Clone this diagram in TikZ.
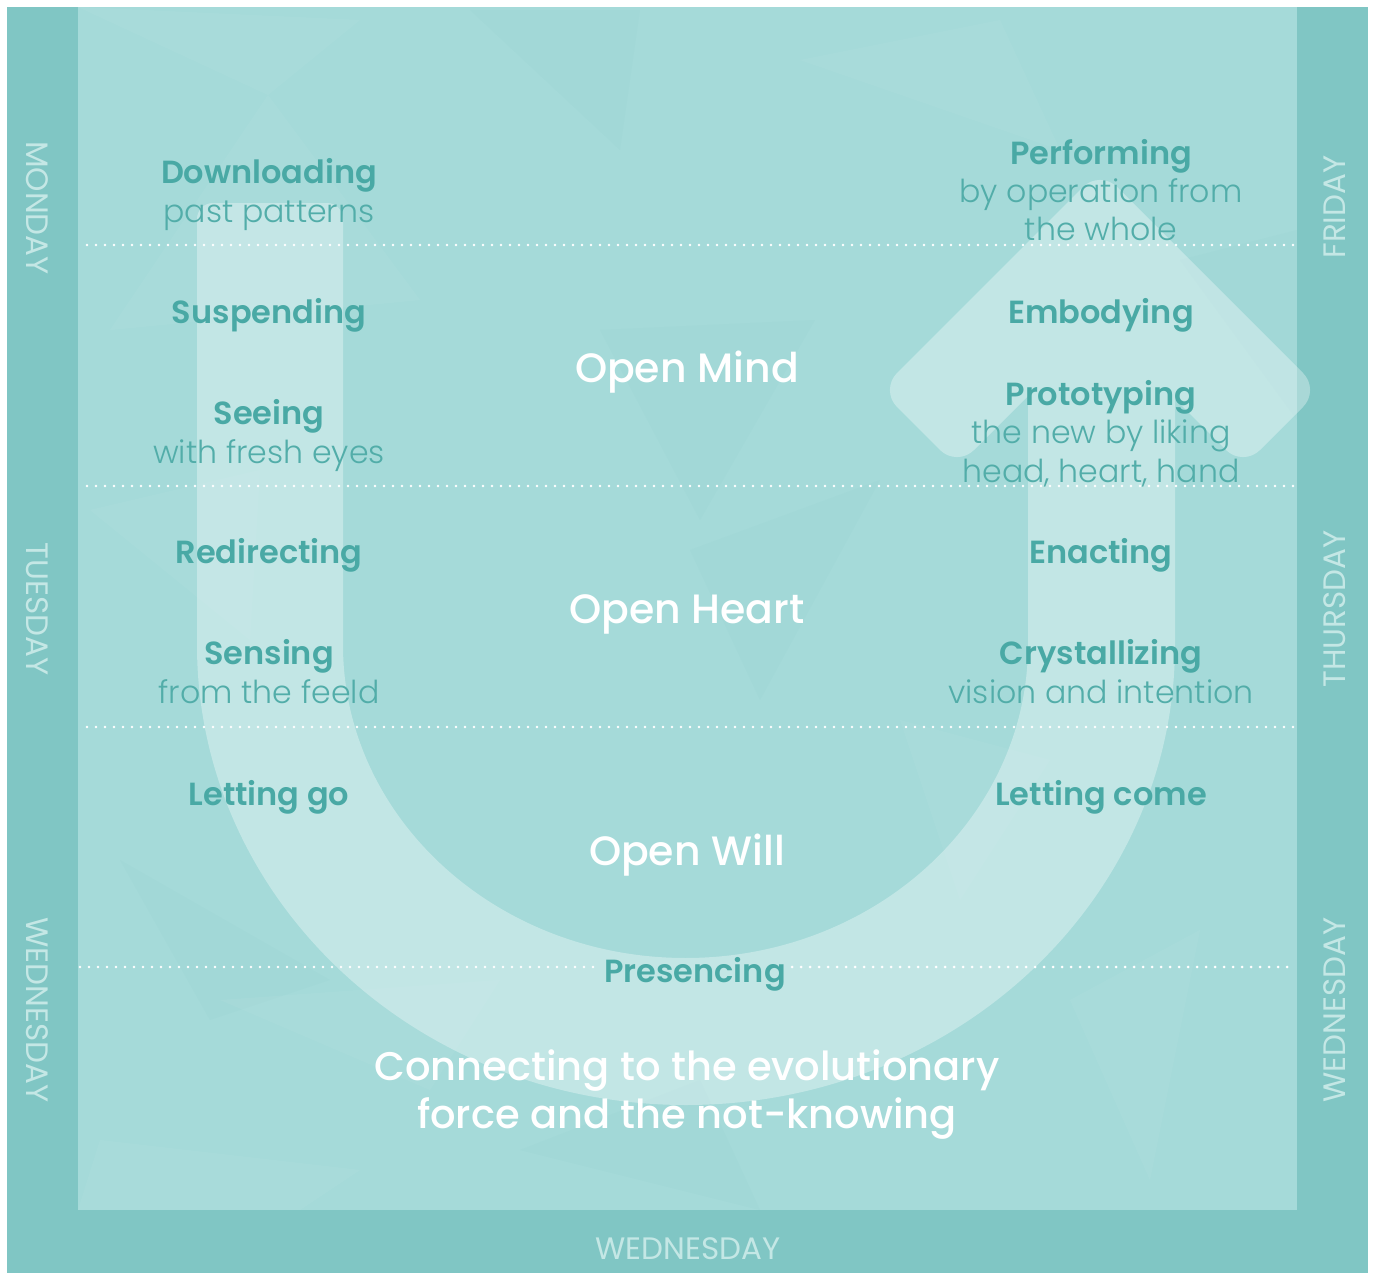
\documentclass[tikz,border=0pt]{standalone}
\usepackage{fontspec}
\setmainfont{Poppins}
\newfontfamily\semib{Poppins SemiBold}
\newfontfamily\lightf{Poppins Light}
\newfontfamily\medf{Poppins Medium}
\definecolor{band}{HTML}{80C6C4}
\definecolor{panel}{HTML}{A5DAD9}
\definecolor{ink}{HTML}{49A9A5}
\definecolor{inksub}{HTML}{52ADA9}
\definecolor{dayc}{HTML}{C4E7E5}
\tikzset{
  headtxt/.style={text=ink, anchor=base, inner sep=0pt, font=\semib\fontsize{16}{19}\selectfont},
  subtxt/.style={text=inksub, anchor=base, inner sep=0pt, font=\lightf\fontsize{15.8}{19}\selectfont},
  opentxt/.style={text=white, anchor=base, inner sep=0pt, font=\medf\fontsize{20.5}{24}\selectfont},
  conntxt/.style={text=white, anchor=base, inner sep=0pt, font=\medf\fontsize{20}{24}\selectfont},
  daytxt/.style={text=dayc, inner sep=0pt, font=\fontsize{15.5}{17}\selectfont},
  dots/.style={white, line width=1.4pt, line cap=round, dash pattern=on 0pt off 4.5pt},
  facet/.style={fill=white, fill opacity=0.045},
  facetd/.style={fill=band, fill opacity=0.08}
}
\begin{document}
\begin{tikzpicture}[x=0.5pt,y=-0.5pt]
\useasboundingbox (0,0) rectangle (1373,1274);
\fill[white] (0,0) rectangle (1373,1274);
% outer band and inner panel
\fill[band] (7,7) rectangle (1368,1273);
\fill[panel] (78,7) rectangle (1297,1210);
% faint facets
\begin{scope}
\clip (78,7) rectangle (1297,1210);
\fill[facet] (78,7) -- (268,95) -- (360,20) -- cycle;
\fill[facet] (268,95) -- (420,300) -- (110,330) -- cycle;
\fill[facetd] (470,10) -- (620,150) -- (640,10) -- cycle;
\fill[facet] (800,60) -- (1000,20) -- (1060,150) -- cycle;
\fill[facetd] (600,330) -- (815,320) -- (700,520) -- cycle;
\fill[facet] (90,510) -- (260,470) -- (250,640) -- cycle;
\fill[facetd] (690,550) -- (880,480) -- (760,700) -- cycle;
\fill[facet] (100,1140) -- (360,1170) -- (300,1210) -- (78,1210) -- cycle;
\fill[facetd] (520,1150) -- (700,1080) -- (760,1210) -- cycle;
\fill[facet] (1070,1000) -- (1200,930) -- (1150,1180) -- cycle;
\fill[facetd] (120,860) -- (330,980) -- (210,1020) -- cycle;
\fill[facet] (900,720) -- (1050,760) -- (960,900) -- cycle;
\fill[facetd] (1180,260) -- (1297,230) -- (1297,420) -- cycle;
\fill[facet] (220,1000) -- (500,980) -- (430,1090) -- cycle;
\end{scope}
% U with arrow
\fill[white, fill opacity=0.33]
  (197,645) [rounded corners=8pt] -- (197,203) -- (343,203) [sharp corners] -- (343,645)
  arc[start angle=180, end angle=0, x radius=342.5, y radius=313]
  -- (1028,396) [rounded corners=12pt] -- (957,467) -- (880,390) -- (1100,170) -- (1320,390) -- (1243,467) [sharp corners] -- (1175,399)
  -- (1175,645)
  arc[start angle=0, end angle=180, x radius=489, y radius=460] -- cycle;
% dotted level lines
\draw[dots] (87,245) -- (1295,245);
\draw[dots] (87,486) -- (1295,486);
\draw[dots] (87,727) -- (1295,727);
% left column
\node[headtxt] (down) at (269,183) {Downloading};
\node[subtxt] (downs) at (269,222) {past patterns};
\node[headtxt] (susp) at (269,323) {Suspending};
\node[headtxt] (seei) at (269,424) {Seeing};
\node[subtxt] (seeis) at (269,463) {with fresh eyes};
\node[headtxt] (redi) at (269,563) {Redirecting};
\node[headtxt] (sens) at (269,664) {Sensing};
\node[subtxt] (senss) at (269,703) {from the feeld};
\node[headtxt] (letg) at (269,805) {Letting go};
% right column
\node[headtxt] (perf) at (1101,164) {Performing};
\node[subtxt] (perfs1) at (1101,202) {by operation from};
\node[subtxt] (perfs2) at (1101,240) {the whole};
\node[headtxt] (embo) at (1101,323) {Embodying};
\node[headtxt] (prot) at (1101,405) {Prototyping};
\node[subtxt] (prots1) at (1101,443) {the new by liking};
\node[subtxt] (prots2) at (1101,482) {head, heart, hand};
\node[headtxt] (enac) at (1101,563) {Enacting};
\node[headtxt] (crys) at (1101,664) {Crystallizing};
\node[subtxt] (cryss) at (1101,703) {vision and intention};
\node[headtxt] (letc) at (1101,805) {Letting come};
% center
\node[opentxt] (omind) at (687,382) {Open Mind};
\node[opentxt] (oheart) at (687,623) {Open Heart};
\node[opentxt] (owill) at (687,865) {Open Will};
\node[headtxt, inner xsep=3pt] (pres) at (695,982) {Presencing};
\draw[dots] (80,967) -- (pres.west |- 0,967);
\draw[dots] (pres.east |- 0,967) -- (1290,967);
\node[conntxt] (conn1) at (687,1080) {Connecting to the evolutionary};
\node[conntxt] (conn2) at (687,1128) {force and the not-knowing};
% day labels
\node[daytxt, rotate=-90] (mon) at (37,208) {MONDAY};
\node[daytxt, rotate=-90] (tue) at (37,609) {TUESDAY};
\node[daytxt, rotate=-90] (wedl) at (37,1010) {WEDNESDAY};
\node[daytxt, rotate=90] (fri) at (1335,207) {FRIDAY};
\node[daytxt, rotate=90] (thu) at (1335,609) {THURSDAY};
\node[daytxt, rotate=90] (wedr) at (1335,1010) {WEDNESDAY};
\node[daytxt] (wedb) at (688,1249) {WEDNESDAY};
\end{tikzpicture}
\end{document}
